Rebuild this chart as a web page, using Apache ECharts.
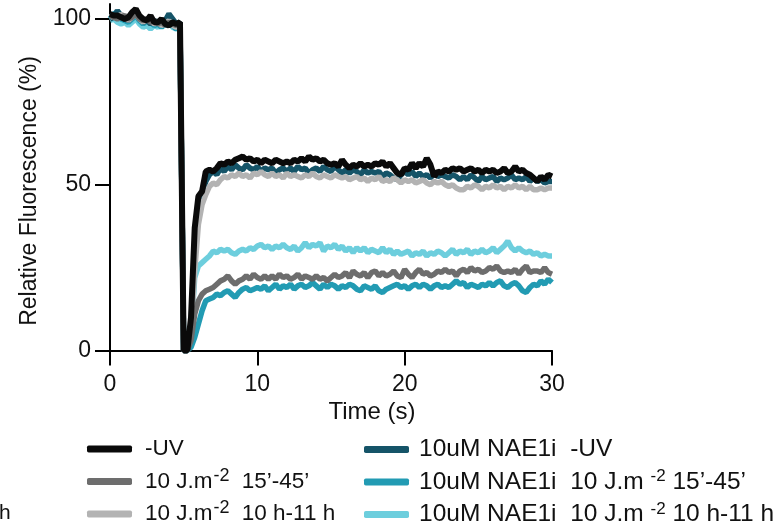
<!DOCTYPE html>
<html>
<head>
<meta charset="utf-8">
<script src="https://cdn.jsdelivr.net/npm/echarts@6/dist/echarts.min.js"></script>
<style>
  html, body { margin: 0; padding: 0; background: #fff; }
  #chart { width: 781px; height: 531px; }
</style>
</head>
<body>
<div id="chart"></div>
<script>
// Sampling times (s): pre-bleach, bleach, then recovery
const timeSec = [
  0, 0.25, 0.5, 0.75, 1, 1.25, 1.5, 1.75, 2, 2.25, 2.5, 2.75, 3, 3.25, 3.5, 3.75, 4, 4.25, 4.5, 4.75, 4.85, 5, 5.25,
  5.5, 5.75,
  6, 6.25, 6.5, 6.75, 7, 7.25, 7.5, 7.75, 8, 8.25, 8.5, 8.75, 9, 9.25, 9.5, 9.75,
  10, 10.25, 10.5, 10.75, 11, 11.25, 11.5, 11.75, 12, 12.25, 12.5, 12.75, 13, 13.25, 13.5, 13.75,
  14, 14.25, 14.5, 14.75, 15, 15.25, 15.5, 15.75, 16, 16.25, 16.5, 16.75, 17, 17.25, 17.5, 17.75,
  18, 18.25, 18.5, 18.75, 19, 19.25, 19.5, 19.75, 20, 20.25, 20.5, 20.75, 21, 21.25, 21.5, 21.75,
  22, 22.25, 22.5, 22.75, 23, 23.25, 23.5, 23.75, 24, 24.25, 24.5, 24.75, 25, 25.25, 25.5, 25.75,
  26, 26.25, 26.5, 26.75, 27, 27.25, 27.5, 27.75, 28, 28.25, 28.5, 28.75, 29, 29.25, 29.5, 29.75,
  30
];

// Relative fluorescence (%) per condition
const minusUV = [
  101.5, 101, 101, 100.5, 100, 100.5, 102, 103, 101, 100, 99.5, 101, 99, 99, 100, 98.5, 98, 99, 98.5, 99, 98.5, 0, 0,
  10, 37,
  46.5, 48, 54, 54.5,  54, 55, 56.5, 56,  57, 56.5, 57.5, 58,  58.5, 57.5, 58, 57,
  57.5, 56.5, 57.5, 57,  56.5, 57.5, 57, 56.5,  57, 56.5, 57.5, 57,  58, 57, 58.5, 57.5,
  58, 57, 57.5, 56.5,  56, 56.5, 55.5, 57.5,  56, 55, 56, 55.5,  56.5, 55.5, 56, 55.5,
  56.5, 56, 57, 55.5,  56.5, 55, 53.5, 53,  55, 54.5, 56.5, 55,  56.5, 55.5, 58, 56,
  52.5, 54, 53.5, 54.5,  54, 55, 54.5, 55,  54, 54.5, 55, 54,  54.5, 53.5, 54.5, 54,
  54.5, 53.5, 54, 55,  53.5, 54, 55.5, 54,  54.5, 53.5, 53, 52,  51, 52.5, 51.5, 53,
  52.5
];
const uv15to45 = [
  101, 100.5, 100, 100.5, 101, 100, 100.5, 101.5, 100, 99.5, 100, 99, 99.5, 98.5, 99, 98, 99, 98.5, 98, 98.5, 98, 0, 0,
  3, 11,
  15, 17, 18, 18.5,  19, 20, 21, 21.5,  22.5, 21, 20, 21,  21.5, 22.5, 21.5, 23,
  22, 21.5, 22.5, 21.5,  22.5, 21.5, 23, 22,  22.5, 21.5, 22, 23,  21.5, 22.5, 22, 21.5,
  22.5, 21.5, 22, 21,  22, 23, 22, 22.5,  23.5, 22, 24, 23,  22.5, 23.5, 22, 23.5,
  24, 22.5, 23.5, 22.5,  23, 24, 22.5, 22,  24.5, 23, 22, 23.5,  24.5, 23, 23.5, 22.5,
  23, 24, 23.5, 24.5,  23.5, 24, 22.5, 24,  24.5, 23.5, 25, 24,  24.5, 23.5, 24, 25,
  24.5, 25.5, 24, 23.5,  24, 23.5, 24.5, 23,  24.5, 25.5, 23.5, 24,  24, 23.5, 25, 23.5,
  23
];
const uv10to11h = [
  100.5, 101, 100, 101.5, 100.5, 99.5, 100.5, 101.5, 100, 99, 100, 99.5, 98.5, 99, 98, 98.5, 99.5, 98, 97.5, 98, 97.5, 0, 0,
  5, 24,
  38, 44, 47, 49.5,  50.5, 50, 51.5, 52.5,  52, 53, 52.5, 53.5,  52.5, 53, 52, 53.5,
  53, 54, 53, 52.5,  53.5, 52.5, 53, 52,  53.5, 52.5, 53, 52.5,  52, 53, 52.5, 53.5,
  52.5, 52, 53, 52.5,  52, 53, 52.5, 52,  52.5, 51.5, 52, 52.5,  51.5, 52, 51, 52,
  51.5, 52.5, 51, 51.5,  51, 52, 51.5, 50.5,  51.5, 51, 51.5, 50.5,  51, 51.5, 50.5, 50,
  51, 50.5, 51, 50,  49.5, 50, 49, 48.5,  48.5, 49.5, 49, 50,  49.5, 48.5, 49.5, 49,
  50, 49, 49.5, 48.5,  49.5, 49, 50, 49,  49.5, 48.5, 49.5, 48.5,  48.5, 49, 48.5, 49,
  49
];
const naeMinusUV = [
  100, 100.5, 102.5, 101, 100, 99.5, 100.5, 102, 100.5, 99, 99.5, 98.5, 99.5, 99, 98.5, 99.5, 101.5, 100, 98.5, 99, 98.5, 0, 0,
  8, 30,
  43, 47, 51, 53,  54, 53, 55, 54,  55.5, 54.5, 56, 55,  54.5, 56, 55, 54.5,
  55.5, 54, 55, 54.5,  55, 53.5, 54.5, 55,  54, 55, 54, 55.5,  54.5, 55, 53.5, 54.5,
  55, 54, 55.5, 54.5,  54, 55.5, 54.5, 53.5,  54.5, 53.5, 54.5, 54,  53, 54.5, 53.5, 54,
  53.5, 54, 52.5, 53.5,  53, 52, 51.5, 53,  54, 53, 54, 52.5,  53.5, 52.5, 53, 52,
  53.5, 52.5, 53, 52.5,  52, 53, 52.5, 51.5,  52.5, 51.5, 53, 52,  51, 52.5, 51.5, 52,
  52.5, 51, 52, 51.5,  52, 53, 51.5, 52,  51.5, 52.5, 51, 52,  51, 51.5, 50.5, 51,
  51
];
const nae15to45 = [
  100, 101.5, 102, 100, 99.5, 99, 100, 101, 99.5, 98.5, 99.5, 99, 98, 98.5, 97.5, 98.5, 99, 98, 97, 98, 97.5, 0, 0,
  1, 4,
  8, 12, 15, 15.5,  16, 17, 16.5, 17.5,  18, 17, 16, 17.5,  18.5, 19, 18, 18.5,
  19, 18.5, 19.5, 18,  19, 20, 18.5, 19.5,  19, 20, 18.5, 19.5,  20, 19, 19.5, 20.5,
  19.5, 18.5, 20, 19,  20, 19.5, 18.5, 19.5,  19, 20, 19.5, 18.5,  18, 19.5, 19, 18.5,
  19.5, 18, 17.5, 18.5,  19, 19.5, 20, 19,  19.5, 18.5, 19.5, 20,  19, 20, 19.5, 18.5,
  19.5, 20, 19, 19.5,  19, 20, 21, 20,  20.5, 19, 20, 19.5,  19, 20, 19.5, 20.5,
  19.5, 20.5, 21, 19.5,  19, 20, 20.5, 19.5,  18, 17.5, 19, 20,  19.5, 21, 20, 21.5,
  20.5
];
const nae10to11h = [
  99.5, 100, 99, 98.5, 99, 98, 99, 100, 98.5, 97.5, 98, 97, 98, 97.5, 98.5, 98, 99, 97.5, 97, 97.5, 97, 0, 0,
  5, 22,
  25.5, 26.5, 27.5, 28.5,  30, 29.5, 30.5, 30,  30.5, 29.5, 29, 30,  30.5, 30, 31, 30.5,
  31.5, 32, 31, 31.5,  30.5, 31.5, 31, 32,  31, 30.5, 31.5, 30,  31, 32.5, 31, 32,
  31.5, 32.5, 30, 31.5,  31, 32, 30.5, 31.5,  30, 31, 29.5, 31,  30, 31, 29.5, 30.5,
  30, 29.5, 31, 29.5,  30.5, 29, 30, 29,  29.5, 30, 28.5, 29.5,  29, 30, 28.5, 29.5,
  29, 30, 29.5, 28.5,  29.5, 30.5, 29, 30,  29.5, 30.5, 29, 30,  29.5, 30.5, 29.5, 30,
  31, 29.5, 30.5, 31.5,  33, 31, 30, 31,  30, 29.5, 30, 29,  29.5, 28.5, 29, 28.5,
  28.5
];

const xTicks = [0, 10, 20, 30];
const yTicks = [0, 50, 100];

const FONT = "'Liberation Sans', Arial, sans-serif";

// Draw order: inhibitor traces underneath, controls on top
const seriesDefs = [
  { name: 'nae10to11h', values: nae10to11h, color: '#6dcedd', width: 5.5 },
  { name: 'nae15to45', values: nae15to45, color: '#229bb3', width: 5.5 },
  { name: 'naeMinusUV', values: naeMinusUV, color: '#155468', width: 5.5 },
  { name: 'uv10to11h', values: uv10to11h, color: '#b3b3b3', width: 5.5 },
  { name: 'uv15to45', values: uv15to45, color: '#6d6d6d', width: 5.5 },
  { name: 'minusUV', values: minusUV, color: '#0a0a0a', width: 6 }
];

const legendLabels = {
  minusUV: '-UV',
  uv15to45: '10 J.m{sup|-2} 15\u2019-45\u2019',
  uv10to11h: '10 J.m{sup|-2} 10 h-11 h',
  naeMinusUV: '10uM NAE1i  -UV',
  nae15to45: '10uM NAE1i  10 J.m {sup|-2} 15\u2019-45\u2019',
  nae10to11h: '10uM NAE1i  10 J.m {sup|-2} 10 h-11 h'
};

function legendBlock(left, names, gapPad, size, supSize, supPad) {
  return {
    left: left, top: 437, orient: 'vertical',
    itemWidth: 45, itemHeight: 7, itemGap: 6,
    icon: 'roundRect', padding: 0,
    selectedMode: false,
    data: names,
    formatter: function (n) { return legendLabels[n]; },
    textStyle: {
      fontFamily: FONT, fontSize: size, color: '#111', lineHeight: 24,
      padding: [0, 0, 0, gapPad],
      rich: { sup: { fontSize: supSize, fontFamily: FONT, color: '#111', padding: supPad } }
    }
  };
}

const chart = echarts.init(document.getElementById('chart'), null, { renderer: 'canvas' });

chart.setOption({
  animation: false,
  backgroundColor: '#ffffff',
  grid: { left: 110, right: 229, top: 4, bottom: 180.5, containLabel: false },
  xAxis: {
    type: 'value', min: 0, max: 30, interval: 10,
    axisLine: { lineStyle: { color: '#000', width: 2 } },
    axisTick: { length: 15, lineStyle: { color: '#000', width: 2 } },
    axisLabel: { fontFamily: FONT, fontSize: 23, color: '#111', margin: 23,
      customValues: xTicks },
    splitLine: { show: false }
  },
  yAxis: {
    type: 'value', min: 0, max: 104.5,
    axisLine: { show: true, lineStyle: { color: '#000', width: 2 } },
    axisTick: { show: true, length: 15, customValues: yTicks, lineStyle: { color: '#000', width: 2 } },
    axisLabel: { fontFamily: FONT, fontSize: 23, color: '#111', margin: 19, customValues: yTicks },
    splitLine: { show: false }
  },
  legend: [
    legendBlock(87, ['minusUV', 'uv15to45', 'uv10to11h'], 8, 22.5, 18, [0, 6, 11, 1]),
    legendBlock(364, ['naeMinusUV', 'nae15to45', 'nae10to11h'], 5, 24.5, 17, [0, 0, 11, 0])
  ],
  graphic: [
    { type: 'text', x: 30, y: 191, rotation: Math.PI / 2,
      style: { text: 'Relative Fluorescence (%)', fill: '#111', font: '23px ' + FONT,
        align: 'center', verticalAlign: 'middle' } },
    { type: 'text', x: 372, y: 412,
      style: { text: 'Time (s)', fill: '#111', font: '24px ' + FONT,
        align: 'center', verticalAlign: 'middle' } },
    { type: 'text', x: -1, y: 513,
      style: { text: 'h', fill: '#111', font: '21px ' + FONT,
        align: 'left', verticalAlign: 'middle' } }
  ],
  series: seriesDefs.map(function (d) {
    return {
      name: d.name, type: 'line', symbol: 'none',
      data: timeSec.map(function (t, i) { return [t, d.values[i]]; }),
      lineStyle: { color: d.color, width: d.width },
      itemStyle: { color: d.color },
      clip: false
    };
  })
});
</script>
</body>
</html>
